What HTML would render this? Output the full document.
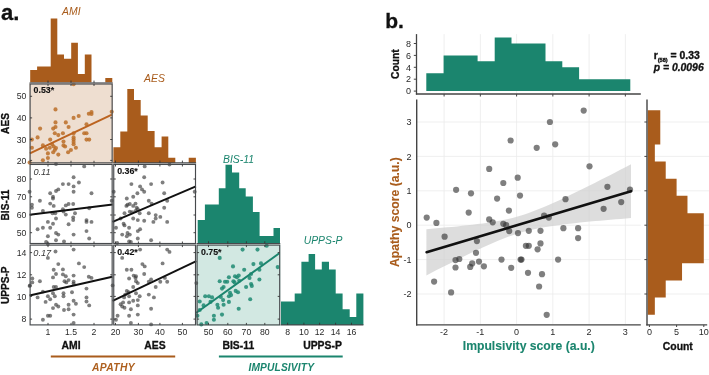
<!DOCTYPE html>
<html><head><meta charset="utf-8"><style>
html,body{margin:0;padding:0;background:#fff;overflow:hidden;}
svg{display:block;will-change:transform;font-family:"Liberation Sans", sans-serif;}
</style></head><body>
<svg width="709" height="375" viewBox="0 0 709 375">
<rect width="709" height="375" fill="#fff"/>
<text x="1.00" y="19.70" font-size="22" fill="#111" stroke="#111" stroke-width="0.3" font-weight="bold" font-style="normal" text-anchor="start" >a.</text>
<path d="M30.20,82.60L30.20,70.10L37.10,70.10L37.10,66.40L50.70,66.40L50.70,18.50L57.30,18.50L57.30,54.40L64.00,54.40L64.00,58.70L71.20,58.70L71.20,42.70L77.90,42.70L77.90,74.10L84.80,74.10L84.80,54.40L91.50,54.40L91.50,82.60ZM105.30,82.60L105.30,78.00L112.30,78.00L112.30,82.60Z" fill="#A95C1C"/>
<text x="71.30" y="14.80" font-size="10.4" fill="#A95C1C" stroke="#A95C1C" stroke-width="0.0" font-weight="normal" font-style="italic" text-anchor="middle" >AMI</text>
<path d="M113.40,163.00L113.40,147.20L120.30,147.20L120.30,131.60L127.30,131.60L127.30,89.10L134.00,89.10L134.00,99.90L140.70,99.90L140.70,115.50L147.70,115.50L147.70,131.10L154.60,131.10L154.60,147.20L161.60,147.20L161.60,136.60L168.30,136.60L168.30,157.80L175.30,157.80L175.30,163.00ZM188.70,163.00L188.70,157.80L195.90,157.80L195.90,163.00Z" fill="#A95C1C"/>
<text x="154.50" y="82.20" font-size="10.4" fill="#A95C1C" stroke="#A95C1C" stroke-width="0.0" font-weight="normal" font-style="italic" text-anchor="middle" >AES</text>
<path d="M197.70,243.60L197.70,220.00L204.90,220.00L204.90,204.40L218.80,204.40L218.80,188.30L225.50,188.30L225.50,164.80L232.00,164.80L232.00,172.50L239.20,172.50L239.20,188.30L245.70,188.30L245.70,196.50L252.90,196.50L252.90,212.00L259.60,212.00L259.60,236.00L273.50,236.00L273.50,227.90L280.00,227.90L280.00,243.60Z" fill="#1B856E"/>
<text x="238.50" y="163.00" font-size="10.4" fill="#1B856E" stroke="#1B856E" stroke-width="0.0" font-weight="normal" font-style="italic" text-anchor="middle" >BIS-11</text>
<path d="M281.00,325.00L281.00,301.40L294.70,301.40L294.70,293.50L301.40,293.50L301.40,261.80L308.60,261.80L308.60,253.90L315.10,253.90L315.10,269.50L321.80,269.50L321.80,261.80L329.00,261.80L329.00,269.50L335.70,269.50L335.70,293.50L342.60,293.50L342.60,309.20L349.70,309.20L349.70,316.90L356.30,316.90L356.30,293.50L363.40,293.50L363.40,325.00Z" fill="#1B856E"/>
<text x="323.00" y="243.90" font-size="10.4" fill="#1B856E" stroke="#1B856E" stroke-width="0.0" font-weight="normal" font-style="italic" text-anchor="middle" >UPPS-P</text>
<rect x="29.30" y="83.20" width="83.65" height="80.45" fill="#EEDED0" />
<rect x="196.30" y="244.30" width="84.20" height="81.40" fill="#D2E8E2" />
<g fill="#BB6F28" fill-opacity="0.85"><circle cx="55.5" cy="109.4" r="2.05"/><circle cx="73.6" cy="117.9" r="2.05"/><circle cx="78.7" cy="116.0" r="2.05"/><circle cx="88.8" cy="113.7" r="2.05"/><circle cx="91.5" cy="112.1" r="2.05"/><circle cx="91.5" cy="114.0" r="2.05"/><circle cx="111.7" cy="111.7" r="2.05"/><circle cx="55.5" cy="122.4" r="2.05"/><circle cx="65.8" cy="122.4" r="2.05"/><circle cx="40.1" cy="128.6" r="2.05"/><circle cx="53.2" cy="128.6" r="2.05"/><circle cx="55.5" cy="127.0" r="2.05"/><circle cx="68.6" cy="127.0" r="2.05"/><circle cx="86.5" cy="124.3" r="2.05"/><circle cx="37.6" cy="137.4" r="2.05"/><circle cx="54.8" cy="133.2" r="2.05"/><circle cx="58.3" cy="135.1" r="2.05"/><circle cx="62.9" cy="133.2" r="2.05"/><circle cx="73.6" cy="133.2" r="2.05"/><circle cx="84.2" cy="133.2" r="2.05"/><circle cx="86.5" cy="133.2" r="2.05"/><circle cx="31.9" cy="139.6" r="2.05"/><circle cx="50.2" cy="139.6" r="2.05"/><circle cx="63.5" cy="141.5" r="2.05"/><circle cx="73.6" cy="137.4" r="2.05"/><circle cx="73.6" cy="139.6" r="2.05"/><circle cx="73.6" cy="141.9" r="2.05"/><circle cx="73.6" cy="144.2" r="2.05"/><circle cx="86.5" cy="139.6" r="2.05"/><circle cx="89.2" cy="139.6" r="2.05"/><circle cx="31.9" cy="147.7" r="2.05"/><circle cx="42.9" cy="145.4" r="2.05"/><circle cx="46.1" cy="148.8" r="2.05"/><circle cx="49.8" cy="147.7" r="2.05"/><circle cx="53.7" cy="146.5" r="2.05"/><circle cx="56.0" cy="148.1" r="2.05"/><circle cx="63.5" cy="145.4" r="2.05"/><circle cx="65.1" cy="146.5" r="2.05"/><circle cx="70.9" cy="150.0" r="2.05"/><circle cx="68.1" cy="152.3" r="2.05"/><circle cx="75.9" cy="147.7" r="2.05"/><circle cx="47.9" cy="153.4" r="2.05"/><circle cx="53.2" cy="152.3" r="2.05"/><circle cx="54.8" cy="150.0" r="2.05"/><circle cx="58.3" cy="154.6" r="2.05"/><circle cx="47.9" cy="158.0" r="2.05"/><circle cx="42.9" cy="160.3" r="2.05"/><circle cx="29.6" cy="162.6" r="2.05"/><circle cx="52.1" cy="144.2" r="2.05"/><circle cx="73.6" cy="84.2" r="2.05"/></g>
<g fill="#3A3A3A" fill-opacity="0.65"><circle cx="56.0" cy="164.1" r="1.95"/><circle cx="84.2" cy="166.4" r="1.95"/><circle cx="73.6" cy="177.2" r="1.95"/><circle cx="62.9" cy="184.1" r="1.95"/><circle cx="68.6" cy="184.1" r="1.95"/><circle cx="78.9" cy="182.5" r="1.95"/><circle cx="73.6" cy="186.4" r="1.95"/><circle cx="58.3" cy="189.4" r="1.95"/><circle cx="56.0" cy="191.0" r="1.95"/><circle cx="73.6" cy="191.7" r="1.95"/><circle cx="50.2" cy="193.3" r="1.95"/><circle cx="91.5" cy="193.3" r="1.95"/><circle cx="29.6" cy="191.7" r="1.95"/><circle cx="53.0" cy="196.7" r="1.95"/><circle cx="53.0" cy="198.5" r="1.95"/><circle cx="39.9" cy="200.8" r="1.95"/><circle cx="50.2" cy="203.6" r="1.95"/><circle cx="53.7" cy="205.9" r="1.95"/><circle cx="68.6" cy="204.0" r="1.95"/><circle cx="65.8" cy="205.4" r="1.95"/><circle cx="73.2" cy="204.0" r="1.95"/><circle cx="31.9" cy="204.7" r="1.95"/><circle cx="31.9" cy="207.7" r="1.95"/><circle cx="42.9" cy="210.9" r="1.95"/><circle cx="62.9" cy="209.3" r="1.95"/><circle cx="63.5" cy="211.6" r="1.95"/><circle cx="52.5" cy="213.2" r="1.95"/><circle cx="55.3" cy="213.2" r="1.95"/><circle cx="65.8" cy="214.6" r="1.95"/><circle cx="75.0" cy="213.2" r="1.95"/><circle cx="89.2" cy="208.2" r="1.95"/><circle cx="111.7" cy="200.8" r="1.95"/><circle cx="56.0" cy="218.5" r="1.95"/><circle cx="73.2" cy="217.4" r="1.95"/><circle cx="73.2" cy="220.1" r="1.95"/><circle cx="47.9" cy="221.9" r="1.95"/><circle cx="53.0" cy="223.8" r="1.95"/><circle cx="86.5" cy="220.1" r="1.95"/><circle cx="86.5" cy="221.9" r="1.95"/><circle cx="91.5" cy="221.9" r="1.95"/><circle cx="68.6" cy="224.2" r="1.95"/><circle cx="37.6" cy="229.3" r="1.95"/><circle cx="42.9" cy="227.7" r="1.95"/><circle cx="50.2" cy="227.7" r="1.95"/><circle cx="86.5" cy="231.1" r="1.95"/><circle cx="56.0" cy="233.0" r="1.95"/><circle cx="58.3" cy="234.6" r="1.95"/><circle cx="47.9" cy="236.2" r="1.95"/><circle cx="73.6" cy="234.6" r="1.95"/><circle cx="89.2" cy="238.5" r="1.95"/><circle cx="56.0" cy="240.3" r="1.95"/><circle cx="64.0" cy="241.4" r="1.95"/><circle cx="46.1" cy="241.9" r="1.95"/></g>
<g fill="#3A3A3A" fill-opacity="0.65"><circle cx="144.7" cy="166.4" r="1.95"/><circle cx="169.5" cy="164.6" r="1.95"/><circle cx="144.2" cy="177.2" r="1.95"/><circle cx="131.4" cy="184.1" r="1.95"/><circle cx="151.1" cy="184.1" r="1.95"/><circle cx="162.6" cy="182.5" r="1.95"/><circle cx="140.1" cy="186.4" r="1.95"/><circle cx="142.0" cy="189.4" r="1.95"/><circle cx="144.2" cy="191.7" r="1.95"/><circle cx="137.4" cy="193.3" r="1.95"/><circle cx="164.2" cy="193.3" r="1.95"/><circle cx="113.7" cy="191.7" r="1.95"/><circle cx="194.7" cy="191.7" r="1.95"/><circle cx="133.2" cy="196.7" r="1.95"/><circle cx="126.8" cy="198.5" r="1.95"/><circle cx="148.8" cy="200.8" r="1.95"/><circle cx="167.2" cy="200.8" r="1.95"/><circle cx="127.5" cy="204.7" r="1.95"/><circle cx="129.8" cy="204.0" r="1.95"/><circle cx="135.5" cy="203.6" r="1.95"/><circle cx="133.2" cy="205.9" r="1.95"/><circle cx="151.6" cy="203.6" r="1.95"/><circle cx="126.4" cy="205.9" r="1.95"/><circle cx="136.7" cy="207.7" r="1.95"/><circle cx="137.8" cy="209.3" r="1.95"/><circle cx="164.2" cy="207.7" r="1.95"/><circle cx="135.5" cy="210.9" r="1.95"/><circle cx="129.8" cy="211.6" r="1.95"/><circle cx="132.1" cy="212.3" r="1.95"/><circle cx="124.5" cy="213.2" r="1.95"/><circle cx="139.7" cy="213.2" r="1.95"/><circle cx="148.8" cy="213.2" r="1.95"/><circle cx="155.7" cy="215.1" r="1.95"/><circle cx="160.3" cy="216.9" r="1.95"/><circle cx="120.6" cy="218.5" r="1.95"/><circle cx="133.2" cy="218.5" r="1.95"/><circle cx="155.7" cy="218.5" r="1.95"/><circle cx="137.8" cy="220.1" r="1.95"/><circle cx="144.2" cy="220.8" r="1.95"/><circle cx="153.4" cy="221.9" r="1.95"/><circle cx="167.2" cy="221.9" r="1.95"/><circle cx="123.6" cy="223.8" r="1.95"/><circle cx="124.5" cy="225.4" r="1.95"/><circle cx="116.0" cy="227.7" r="1.95"/><circle cx="129.1" cy="227.7" r="1.95"/><circle cx="140.1" cy="229.3" r="1.95"/><circle cx="137.8" cy="231.1" r="1.95"/><circle cx="127.5" cy="233.0" r="1.95"/><circle cx="129.8" cy="234.6" r="1.95"/><circle cx="122.2" cy="234.6" r="1.95"/><circle cx="126.8" cy="236.2" r="1.95"/><circle cx="137.8" cy="238.5" r="1.95"/><circle cx="151.1" cy="240.3" r="1.95"/><circle cx="129.1" cy="241.4" r="1.95"/><circle cx="130.9" cy="241.9" r="1.95"/><circle cx="117.2" cy="243.0" r="1.95"/></g>
<g fill="#3A3A3A" fill-opacity="0.65"><circle cx="47.9" cy="244.1" r="1.95"/><circle cx="73.6" cy="249.6" r="1.95"/><circle cx="55.5" cy="251.5" r="1.95"/><circle cx="47.9" cy="257.9" r="1.95"/><circle cx="58.3" cy="264.1" r="1.95"/><circle cx="78.9" cy="263.4" r="1.95"/><circle cx="84.2" cy="267.1" r="1.95"/><circle cx="53.7" cy="269.8" r="1.95"/><circle cx="62.9" cy="269.4" r="1.95"/><circle cx="56.0" cy="274.0" r="1.95"/><circle cx="62.9" cy="274.4" r="1.95"/><circle cx="65.8" cy="276.2" r="1.95"/><circle cx="73.6" cy="275.6" r="1.95"/><circle cx="88.8" cy="276.7" r="1.95"/><circle cx="91.5" cy="277.9" r="1.95"/><circle cx="53.0" cy="277.4" r="1.95"/><circle cx="32.3" cy="278.5" r="1.95"/><circle cx="32.3" cy="282.4" r="1.95"/><circle cx="39.9" cy="281.3" r="1.95"/><circle cx="64.5" cy="281.3" r="1.95"/><circle cx="68.6" cy="280.1" r="1.95"/><circle cx="73.6" cy="281.8" r="1.95"/><circle cx="73.6" cy="283.6" r="1.95"/><circle cx="66.3" cy="282.4" r="1.95"/><circle cx="30.0" cy="285.4" r="1.95"/><circle cx="53.7" cy="287.0" r="1.95"/><circle cx="56.0" cy="287.0" r="1.95"/><circle cx="86.5" cy="288.6" r="1.95"/><circle cx="42.9" cy="291.6" r="1.95"/><circle cx="53.0" cy="293.2" r="1.95"/><circle cx="63.5" cy="293.2" r="1.95"/><circle cx="72.0" cy="292.3" r="1.95"/><circle cx="54.8" cy="296.2" r="1.95"/><circle cx="47.9" cy="296.2" r="1.95"/><circle cx="63.5" cy="296.2" r="1.95"/><circle cx="37.6" cy="297.4" r="1.95"/><circle cx="50.2" cy="299.2" r="1.95"/><circle cx="86.5" cy="297.4" r="1.95"/><circle cx="45.6" cy="301.9" r="1.95"/><circle cx="73.6" cy="300.8" r="1.95"/><circle cx="86.5" cy="301.5" r="1.95"/><circle cx="56.0" cy="304.7" r="1.95"/><circle cx="58.3" cy="306.5" r="1.95"/><circle cx="68.6" cy="304.7" r="1.95"/><circle cx="75.9" cy="303.8" r="1.95"/><circle cx="89.2" cy="305.4" r="1.95"/><circle cx="53.0" cy="308.1" r="1.95"/><circle cx="64.0" cy="310.0" r="1.95"/><circle cx="68.6" cy="309.3" r="1.95"/><circle cx="47.9" cy="315.7" r="1.95"/><circle cx="50.2" cy="315.7" r="1.95"/><circle cx="73.6" cy="314.6" r="1.95"/><circle cx="42.9" cy="319.8" r="1.95"/><circle cx="73.6" cy="323.0" r="1.95"/><circle cx="29.6" cy="285.9" r="1.95"/></g>
<g fill="#3A3A3A" fill-opacity="0.65"><circle cx="140.1" cy="249.6" r="1.95"/><circle cx="167.2" cy="249.6" r="1.95"/><circle cx="169.5" cy="251.9" r="1.95"/><circle cx="122.2" cy="257.9" r="1.95"/><circle cx="142.4" cy="264.1" r="1.95"/><circle cx="144.7" cy="266.4" r="1.95"/><circle cx="162.6" cy="263.4" r="1.95"/><circle cx="126.8" cy="269.8" r="1.95"/><circle cx="131.4" cy="269.8" r="1.95"/><circle cx="144.2" cy="274.0" r="1.95"/><circle cx="133.7" cy="275.6" r="1.95"/><circle cx="136.0" cy="276.2" r="1.95"/><circle cx="129.1" cy="278.5" r="1.95"/><circle cx="135.5" cy="277.9" r="1.95"/><circle cx="164.9" cy="277.9" r="1.95"/><circle cx="151.1" cy="279.5" r="1.95"/><circle cx="148.8" cy="281.8" r="1.95"/><circle cx="160.3" cy="281.8" r="1.95"/><circle cx="167.2" cy="281.8" r="1.95"/><circle cx="136.0" cy="281.3" r="1.95"/><circle cx="137.8" cy="283.1" r="1.95"/><circle cx="112.6" cy="285.4" r="1.95"/><circle cx="196.3" cy="283.1" r="1.95"/><circle cx="133.2" cy="287.0" r="1.95"/><circle cx="155.7" cy="287.0" r="1.95"/><circle cx="126.8" cy="290.9" r="1.95"/><circle cx="128.6" cy="292.3" r="1.95"/><circle cx="136.0" cy="293.2" r="1.95"/><circle cx="125.2" cy="294.6" r="1.95"/><circle cx="148.8" cy="294.6" r="1.95"/><circle cx="129.1" cy="296.2" r="1.95"/><circle cx="139.7" cy="296.2" r="1.95"/><circle cx="124.1" cy="297.4" r="1.95"/><circle cx="153.9" cy="297.4" r="1.95"/><circle cx="137.8" cy="300.1" r="1.95"/><circle cx="133.2" cy="300.8" r="1.95"/><circle cx="129.1" cy="302.4" r="1.95"/><circle cx="120.6" cy="304.2" r="1.95"/><circle cx="137.8" cy="305.4" r="1.95"/><circle cx="122.2" cy="306.5" r="1.95"/><circle cx="124.5" cy="307.7" r="1.95"/><circle cx="130.9" cy="309.3" r="1.95"/><circle cx="151.1" cy="308.8" r="1.95"/><circle cx="137.8" cy="314.6" r="1.95"/><circle cx="117.6" cy="315.7" r="1.95"/><circle cx="129.1" cy="315.7" r="1.95"/><circle cx="116.0" cy="319.8" r="1.95"/><circle cx="130.9" cy="323.0" r="1.95"/><circle cx="151.1" cy="324.4" r="1.95"/><circle cx="123.1" cy="302.4" r="1.95"/></g>
<g fill="#1E8A72" fill-opacity="0.85"><circle cx="242.6" cy="249.6" r="2.05"/><circle cx="257.5" cy="249.6" r="2.05"/><circle cx="266.7" cy="245.7" r="2.05"/><circle cx="219.7" cy="257.9" r="2.05"/><circle cx="233.0" cy="266.4" r="2.05"/><circle cx="253.4" cy="264.1" r="2.05"/><circle cx="261.0" cy="263.4" r="2.05"/><circle cx="244.2" cy="269.8" r="2.05"/><circle cx="259.4" cy="269.8" r="2.05"/><circle cx="277.7" cy="267.1" r="2.05"/><circle cx="228.9" cy="277.2" r="2.05"/><circle cx="235.0" cy="276.2" r="2.05"/><circle cx="236.9" cy="277.2" r="2.05"/><circle cx="238.7" cy="275.6" r="2.05"/><circle cx="251.1" cy="274.0" r="2.05"/><circle cx="249.5" cy="277.9" r="2.05"/><circle cx="219.7" cy="281.3" r="2.05"/><circle cx="225.0" cy="281.8" r="2.05"/><circle cx="227.2" cy="281.8" r="2.05"/><circle cx="233.4" cy="281.3" r="2.05"/><circle cx="234.6" cy="282.4" r="2.05"/><circle cx="259.4" cy="279.5" r="2.05"/><circle cx="239.2" cy="280.8" r="2.05"/><circle cx="223.6" cy="287.0" r="2.05"/><circle cx="222.0" cy="288.6" r="2.05"/><circle cx="246.1" cy="287.0" r="2.05"/><circle cx="251.1" cy="284.0" r="2.05"/><circle cx="251.8" cy="285.9" r="2.05"/><circle cx="235.7" cy="290.9" r="2.05"/><circle cx="238.0" cy="292.3" r="2.05"/><circle cx="230.0" cy="292.8" r="2.05"/><circle cx="231.1" cy="295.1" r="2.05"/><circle cx="228.9" cy="296.2" r="2.05"/><circle cx="205.2" cy="296.2" r="2.05"/><circle cx="208.9" cy="296.2" r="2.05"/><circle cx="212.1" cy="297.4" r="2.05"/><circle cx="220.8" cy="296.9" r="2.05"/><circle cx="250.2" cy="299.2" r="2.05"/><circle cx="199.7" cy="301.5" r="2.05"/><circle cx="210.5" cy="301.9" r="2.05"/><circle cx="223.1" cy="300.1" r="2.05"/><circle cx="228.9" cy="301.9" r="2.05"/><circle cx="217.4" cy="304.7" r="2.05"/><circle cx="223.6" cy="304.7" r="2.05"/><circle cx="203.6" cy="305.4" r="2.05"/><circle cx="218.1" cy="307.7" r="2.05"/><circle cx="238.7" cy="308.8" r="2.05"/><circle cx="199.7" cy="310.0" r="2.05"/><circle cx="222.0" cy="314.6" r="2.05"/><circle cx="213.9" cy="315.7" r="2.05"/><circle cx="197.4" cy="315.7" r="2.05"/><circle cx="213.9" cy="319.8" r="2.05"/><circle cx="206.6" cy="323.0" r="2.05"/><circle cx="201.3" cy="324.4" r="2.05"/></g>
<line x1="29.90" y1="153.30" x2="111.90" y2="114.60" stroke="#BC6420" stroke-width="2.0" />
<line x1="29.60" y1="214.80" x2="112.60" y2="204.60" stroke="#111" stroke-width="2.0" />
<line x1="112.60" y1="221.90" x2="195.90" y2="186.40" stroke="#111" stroke-width="2.0" />
<line x1="29.60" y1="295.50" x2="112.30" y2="276.70" stroke="#111" stroke-width="2.0" />
<line x1="112.60" y1="300.80" x2="196.30" y2="261.10" stroke="#111" stroke-width="2.0" />
<line x1="196.00" y1="313.00" x2="279.30" y2="253.30" stroke="#1B856E" stroke-width="2.0" />
<rect x="30.10" y="84.00" width="82.05" height="78.85" fill="none" stroke="#474a4d" stroke-width="1.15"/>
<path d="M48.0,162.8v-2M48.0,84.0v2M71.0,162.8v-2M71.0,84.0v2M94.0,162.8v-2M94.0,84.0v2M30.1,96.3h2M112.2,96.3h-2M30.1,117.9h2M112.2,117.9h-2M30.1,139.5h2M112.2,139.5h-2M30.1,160.4h2M112.2,160.4h-2" stroke="#333" stroke-width="0.9" fill="none"/>
<rect x="30.10" y="164.45" width="82.05" height="79.05" fill="none" stroke="#474a4d" stroke-width="1.15"/>
<path d="M48.0,243.5v-2M48.0,164.5v2M71.0,243.5v-2M71.0,164.5v2M94.0,243.5v-2M94.0,164.5v2M30.1,179.0h2M112.2,179.0h-2M30.1,196.8h2M112.2,196.8h-2M30.1,215.0h2M112.2,215.0h-2M30.1,232.7h2M112.2,232.7h-2" stroke="#333" stroke-width="0.9" fill="none"/>
<rect x="113.75" y="164.45" width="81.75" height="79.05" fill="none" stroke="#474a4d" stroke-width="1.15"/>
<path d="M115.5,243.5v-2M115.5,164.5v2M138.4,243.5v-2M138.4,164.5v2M159.9,243.5v-2M159.9,164.5v2M182.4,243.5v-2M182.4,164.5v2M113.8,179.0h2M195.5,179.0h-2M113.8,196.8h2M195.5,196.8h-2M113.8,215.0h2M195.5,215.0h-2M113.8,232.7h2M195.5,232.7h-2" stroke="#333" stroke-width="0.9" fill="none"/>
<rect x="30.10" y="245.10" width="82.05" height="79.80" fill="none" stroke="#474a4d" stroke-width="1.15"/>
<path d="M48.0,324.9v-2M48.0,245.1v2M71.0,324.9v-2M71.0,245.1v2M94.0,324.9v-2M94.0,245.1v2M30.1,252.6h2M112.2,252.6h-2M30.1,274.8h2M112.2,274.8h-2M30.1,296.4h2M112.2,296.4h-2M30.1,319.1h2M112.2,319.1h-2" stroke="#333" stroke-width="0.9" fill="none"/>
<rect x="113.75" y="245.10" width="81.75" height="79.80" fill="none" stroke="#474a4d" stroke-width="1.15"/>
<path d="M115.5,324.9v-2M115.5,245.1v2M138.4,324.9v-2M138.4,245.1v2M159.9,324.9v-2M159.9,245.1v2M182.4,324.9v-2M182.4,245.1v2M113.8,252.6h2M195.5,252.6h-2M113.8,274.8h2M195.5,274.8h-2M113.8,296.4h2M195.5,296.4h-2M113.8,319.1h2M195.5,319.1h-2" stroke="#333" stroke-width="0.9" fill="none"/>
<rect x="197.10" y="245.10" width="82.60" height="79.80" fill="none" stroke="#474a4d" stroke-width="1.15"/>
<path d="M208.5,324.9v-2M208.5,245.1v2M227.8,324.9v-2M227.8,245.1v2M246.4,324.9v-2M246.4,245.1v2M264.8,324.9v-2M264.8,245.1v2M197.1,252.6h2M279.7,252.6h-2M197.1,274.8h2M279.7,274.8h-2M197.1,296.4h2M279.7,296.4h-2M197.1,319.1h2M279.7,319.1h-2" stroke="#333" stroke-width="0.9" fill="none"/>
<line x1="29.50" y1="82.80" x2="112.75" y2="82.80" stroke="#6a6d70" stroke-width="1.3" />
<line x1="113.15" y1="162.85" x2="196.10" y2="162.85" stroke="#474a4d" stroke-width="1.15" />
<line x1="196.50" y1="243.50" x2="280.30" y2="243.50" stroke="#474a4d" stroke-width="1.15" />
<line x1="280.70" y1="324.90" x2="363.40" y2="324.90" stroke="#474a4d" stroke-width="1.15" />
<path d="M48.0,82.8v-2.2M71.0,82.8v-2.2M94.0,82.8v-2.2" stroke="#333" stroke-width="0.9" fill="none"/>
<path d="M115.5,162.8v-2.2M138.4,162.8v-2.2M159.9,162.8v-2.2M182.4,162.8v-2.2" stroke="#333" stroke-width="0.9" fill="none"/>
<path d="M208.5,243.5v-2.2M227.8,243.5v-2.2M246.4,243.5v-2.2M264.8,243.5v-2.2" stroke="#333" stroke-width="0.9" fill="none"/>
<path d="M287.6,324.9v-2.2M303.9,324.9v-2.2M319.6,324.9v-2.2M335.6,324.9v-2.2M351.5,324.9v-2.2" stroke="#333" stroke-width="0.9" fill="none"/>
<text x="33.60" y="93.00" font-size="8.8" fill="#111" stroke="#111" stroke-width="0.12" font-weight="bold" font-style="normal" text-anchor="start" >0.53*</text>
<text x="33.40" y="174.90" font-size="9.2" fill="#3a3a3a" stroke="#3a3a3a" stroke-width="0.0" font-weight="normal" font-style="italic" text-anchor="start" >0.11</text>
<text x="117.20" y="174.30" font-size="8.8" fill="#111" stroke="#111" stroke-width="0.12" font-weight="bold" font-style="normal" text-anchor="start" >0.36*</text>
<text x="33.30" y="255.90" font-size="9.2" fill="#3a3a3a" stroke="#3a3a3a" stroke-width="0.0" font-weight="normal" font-style="italic" text-anchor="start" >0.17</text>
<text x="117.20" y="254.70" font-size="8.8" fill="#111" stroke="#111" stroke-width="0.12" font-weight="bold" font-style="normal" text-anchor="start" >0.42*</text>
<text x="201.00" y="255.10" font-size="8.8" fill="#111" stroke="#111" stroke-width="0.12" font-weight="bold" font-style="normal" text-anchor="start" >0.75*</text>
<text x="26.40" y="99.40" font-size="8.7" fill="#2a2a2a" stroke="#2a2a2a" stroke-width="0.0" font-weight="normal" font-style="normal" text-anchor="end" >50</text>
<text x="26.40" y="121.00" font-size="8.7" fill="#2a2a2a" stroke="#2a2a2a" stroke-width="0.0" font-weight="normal" font-style="normal" text-anchor="end" >40</text>
<text x="26.40" y="142.60" font-size="8.7" fill="#2a2a2a" stroke="#2a2a2a" stroke-width="0.0" font-weight="normal" font-style="normal" text-anchor="end" >30</text>
<text x="26.40" y="163.50" font-size="8.7" fill="#2a2a2a" stroke="#2a2a2a" stroke-width="0.0" font-weight="normal" font-style="normal" text-anchor="end" >20</text>
<text x="26.40" y="182.10" font-size="8.7" fill="#2a2a2a" stroke="#2a2a2a" stroke-width="0.0" font-weight="normal" font-style="normal" text-anchor="end" >80</text>
<text x="26.40" y="199.90" font-size="8.7" fill="#2a2a2a" stroke="#2a2a2a" stroke-width="0.0" font-weight="normal" font-style="normal" text-anchor="end" >70</text>
<text x="26.40" y="218.10" font-size="8.7" fill="#2a2a2a" stroke="#2a2a2a" stroke-width="0.0" font-weight="normal" font-style="normal" text-anchor="end" >60</text>
<text x="26.40" y="235.80" font-size="8.7" fill="#2a2a2a" stroke="#2a2a2a" stroke-width="0.0" font-weight="normal" font-style="normal" text-anchor="end" >50</text>
<text x="26.40" y="255.70" font-size="8.7" fill="#2a2a2a" stroke="#2a2a2a" stroke-width="0.0" font-weight="normal" font-style="normal" text-anchor="end" >14</text>
<text x="26.40" y="277.90" font-size="8.7" fill="#2a2a2a" stroke="#2a2a2a" stroke-width="0.0" font-weight="normal" font-style="normal" text-anchor="end" >12</text>
<text x="26.40" y="299.50" font-size="8.7" fill="#2a2a2a" stroke="#2a2a2a" stroke-width="0.0" font-weight="normal" font-style="normal" text-anchor="end" >10</text>
<text x="26.40" y="322.20" font-size="8.7" fill="#2a2a2a" stroke="#2a2a2a" stroke-width="0.0" font-weight="normal" font-style="normal" text-anchor="end" >8</text>
<text x="48.00" y="334.70" font-size="8.7" fill="#2a2a2a" stroke="#2a2a2a" stroke-width="0.0" font-weight="normal" font-style="normal" text-anchor="middle" >1</text>
<text x="71.00" y="334.70" font-size="8.7" fill="#2a2a2a" stroke="#2a2a2a" stroke-width="0.0" font-weight="normal" font-style="normal" text-anchor="middle" >1.5</text>
<text x="94.00" y="334.70" font-size="8.7" fill="#2a2a2a" stroke="#2a2a2a" stroke-width="0.0" font-weight="normal" font-style="normal" text-anchor="middle" >2</text>
<text x="115.50" y="334.70" font-size="8.7" fill="#2a2a2a" stroke="#2a2a2a" stroke-width="0.0" font-weight="normal" font-style="normal" text-anchor="middle" >20</text>
<text x="138.40" y="334.70" font-size="8.7" fill="#2a2a2a" stroke="#2a2a2a" stroke-width="0.0" font-weight="normal" font-style="normal" text-anchor="middle" >30</text>
<text x="159.90" y="334.70" font-size="8.7" fill="#2a2a2a" stroke="#2a2a2a" stroke-width="0.0" font-weight="normal" font-style="normal" text-anchor="middle" >40</text>
<text x="182.40" y="334.70" font-size="8.7" fill="#2a2a2a" stroke="#2a2a2a" stroke-width="0.0" font-weight="normal" font-style="normal" text-anchor="middle" >50</text>
<text x="208.50" y="334.70" font-size="8.7" fill="#2a2a2a" stroke="#2a2a2a" stroke-width="0.0" font-weight="normal" font-style="normal" text-anchor="middle" >50</text>
<text x="227.80" y="334.70" font-size="8.7" fill="#2a2a2a" stroke="#2a2a2a" stroke-width="0.0" font-weight="normal" font-style="normal" text-anchor="middle" >60</text>
<text x="246.40" y="334.70" font-size="8.7" fill="#2a2a2a" stroke="#2a2a2a" stroke-width="0.0" font-weight="normal" font-style="normal" text-anchor="middle" >70</text>
<text x="264.80" y="334.70" font-size="8.7" fill="#2a2a2a" stroke="#2a2a2a" stroke-width="0.0" font-weight="normal" font-style="normal" text-anchor="middle" >80</text>
<text x="287.60" y="334.70" font-size="8.7" fill="#2a2a2a" stroke="#2a2a2a" stroke-width="0.0" font-weight="normal" font-style="normal" text-anchor="middle" >8</text>
<text x="303.90" y="334.70" font-size="8.7" fill="#2a2a2a" stroke="#2a2a2a" stroke-width="0.0" font-weight="normal" font-style="normal" text-anchor="middle" >10</text>
<text x="319.60" y="334.70" font-size="8.7" fill="#2a2a2a" stroke="#2a2a2a" stroke-width="0.0" font-weight="normal" font-style="normal" text-anchor="middle" >12</text>
<text x="335.60" y="334.70" font-size="8.7" fill="#2a2a2a" stroke="#2a2a2a" stroke-width="0.0" font-weight="normal" font-style="normal" text-anchor="middle" >14</text>
<text x="351.50" y="334.70" font-size="8.7" fill="#2a2a2a" stroke="#2a2a2a" stroke-width="0.0" font-weight="normal" font-style="normal" text-anchor="middle" >16</text>
<text x="9.30" y="123.50" font-size="10.1" fill="#111" stroke="#111" stroke-width="0.3" font-weight="bold" font-style="normal" text-anchor="middle" transform="rotate(-90 9.3 123.5)">AES</text>
<text x="9.30" y="205.00" font-size="10.1" fill="#111" stroke="#111" stroke-width="0.3" font-weight="bold" font-style="normal" text-anchor="middle" transform="rotate(-90 9.3 205.0)">BIS-11</text>
<text x="9.30" y="285.30" font-size="10.1" fill="#111" stroke="#111" stroke-width="0.3" font-weight="bold" font-style="normal" text-anchor="middle" transform="rotate(-90 9.3 285.3)">UPPS-P</text>
<text x="71.10" y="349.30" font-size="10.4" fill="#111" stroke="#111" stroke-width="0.3" font-weight="bold" font-style="normal" text-anchor="middle" >AMI</text>
<text x="154.90" y="349.30" font-size="10.4" fill="#111" stroke="#111" stroke-width="0.3" font-weight="bold" font-style="normal" text-anchor="middle" >AES</text>
<text x="238.30" y="349.30" font-size="10.4" fill="#111" stroke="#111" stroke-width="0.3" font-weight="bold" font-style="normal" text-anchor="middle" >BIS-11</text>
<text x="322.50" y="349.30" font-size="10.4" fill="#111" stroke="#111" stroke-width="0.3" font-weight="bold" font-style="normal" text-anchor="middle" >UPPS-P</text>
<line x1="50.80" y1="356.50" x2="175.20" y2="356.50" stroke="#A95C1C" stroke-width="1.9" />
<line x1="218.90" y1="356.50" x2="342.70" y2="356.50" stroke="#1B856E" stroke-width="1.9" />
<text x="113.5" y="371.1" font-size="10.3" fill="#AD5F1E" font-weight="bold" font-style="italic" text-anchor="middle" letter-spacing="0.4">APATHY</text>
<text x="281.3" y="370.9" font-size="10.2" fill="#1B856E" font-weight="bold" font-style="italic" text-anchor="middle" letter-spacing="0.15">IMPULSIVITY</text>
<text x="385.20" y="27.50" font-size="21" fill="#111" stroke="#111" stroke-width="0.3" font-weight="bold" font-style="normal" text-anchor="start" >b.</text>
<line x1="444.10" y1="34.10" x2="444.10" y2="93.50" stroke="#EBEBEB" stroke-width="0.8" />
<line x1="480.35" y1="34.10" x2="480.35" y2="93.50" stroke="#EBEBEB" stroke-width="0.8" />
<line x1="516.60" y1="34.10" x2="516.60" y2="93.50" stroke="#EBEBEB" stroke-width="0.8" />
<line x1="552.85" y1="34.10" x2="552.85" y2="93.50" stroke="#EBEBEB" stroke-width="0.8" />
<line x1="589.10" y1="34.10" x2="589.10" y2="93.50" stroke="#EBEBEB" stroke-width="0.8" />
<line x1="625.35" y1="34.10" x2="625.35" y2="93.50" stroke="#EBEBEB" stroke-width="0.8" />
<path d="M426.30,91.10L426.30,73.25L443.60,73.25L443.60,55.40L477.60,55.40L477.60,61.35L494.70,61.35L494.70,37.55L511.50,37.55L511.50,43.50L545.50,43.50L545.50,61.35L562.30,61.35L562.30,67.30L579.10,67.30L579.10,79.20L630.30,79.20L630.30,91.10Z" fill="#1B856E"/>
<line x1="416.50" y1="34.10" x2="416.50" y2="94.60" stroke="#444" stroke-width="1.3" />
<line x1="415.90" y1="94.00" x2="640.80" y2="94.00" stroke="#444" stroke-width="1.3" />
<line x1="444.10" y1="94.00" x2="444.10" y2="96.50" stroke="#444" stroke-width="1.0" />
<line x1="480.35" y1="94.00" x2="480.35" y2="96.50" stroke="#444" stroke-width="1.0" />
<line x1="516.60" y1="94.00" x2="516.60" y2="96.50" stroke="#444" stroke-width="1.0" />
<line x1="552.85" y1="94.00" x2="552.85" y2="96.50" stroke="#444" stroke-width="1.0" />
<line x1="589.10" y1="94.00" x2="589.10" y2="96.50" stroke="#444" stroke-width="1.0" />
<line x1="625.35" y1="94.00" x2="625.35" y2="96.50" stroke="#444" stroke-width="1.0" />
<line x1="413.80" y1="91.10" x2="416.50" y2="91.10" stroke="#444" stroke-width="1.0" />
<text x="411.00" y="94.30" font-size="9" fill="#2a2a2a" stroke="#2a2a2a" stroke-width="0.0" font-weight="normal" font-style="normal" text-anchor="end" >0</text>
<line x1="413.80" y1="79.20" x2="416.50" y2="79.20" stroke="#444" stroke-width="1.0" />
<text x="411.00" y="82.40" font-size="9" fill="#2a2a2a" stroke="#2a2a2a" stroke-width="0.0" font-weight="normal" font-style="normal" text-anchor="end" >2</text>
<line x1="413.80" y1="67.30" x2="416.50" y2="67.30" stroke="#444" stroke-width="1.0" />
<text x="411.00" y="70.50" font-size="9" fill="#2a2a2a" stroke="#2a2a2a" stroke-width="0.0" font-weight="normal" font-style="normal" text-anchor="end" >4</text>
<line x1="413.80" y1="55.40" x2="416.50" y2="55.40" stroke="#444" stroke-width="1.0" />
<text x="411.00" y="58.60" font-size="9" fill="#2a2a2a" stroke="#2a2a2a" stroke-width="0.0" font-weight="normal" font-style="normal" text-anchor="end" >6</text>
<line x1="413.80" y1="43.50" x2="416.50" y2="43.50" stroke="#444" stroke-width="1.0" />
<text x="411.00" y="46.70" font-size="9" fill="#2a2a2a" stroke="#2a2a2a" stroke-width="0.0" font-weight="normal" font-style="normal" text-anchor="end" >8</text>
<text x="398.80" y="64.10" font-size="10.3" fill="#111" stroke="#111" stroke-width="0.3" font-weight="bold" font-style="normal" text-anchor="middle" transform="rotate(-90 398.8 64.1)">Count</text>
<text x="653.7" y="58.8" font-size="10.4" fill="#111" stroke="#111" stroke-width="0.35" font-weight="bold">r<tspan font-size="5.6" dy="3.2">(58)</tspan><tspan dy="-3.2"> = 0.33</tspan></text>
<text x="653.70" y="70.80" font-size="10.4" fill="#111" stroke="#111" stroke-width="0.3" font-weight="bold" font-style="italic" text-anchor="start" >p = 0.0096</text>
<line x1="444.10" y1="99.50" x2="444.10" y2="324.00" stroke="#EBEBEB" stroke-width="0.8" />
<line x1="480.35" y1="99.50" x2="480.35" y2="324.00" stroke="#EBEBEB" stroke-width="0.8" />
<line x1="516.60" y1="99.50" x2="516.60" y2="324.00" stroke="#EBEBEB" stroke-width="0.8" />
<line x1="552.85" y1="99.50" x2="552.85" y2="324.00" stroke="#EBEBEB" stroke-width="0.8" />
<line x1="589.10" y1="99.50" x2="589.10" y2="324.00" stroke="#EBEBEB" stroke-width="0.8" />
<line x1="625.35" y1="99.50" x2="625.35" y2="324.00" stroke="#EBEBEB" stroke-width="0.8" />
<line x1="416.50" y1="294.00" x2="640.80" y2="294.00" stroke="#EBEBEB" stroke-width="0.8" />
<line x1="416.50" y1="259.60" x2="640.80" y2="259.60" stroke="#EBEBEB" stroke-width="0.8" />
<line x1="416.50" y1="225.20" x2="640.80" y2="225.20" stroke="#EBEBEB" stroke-width="0.8" />
<line x1="416.50" y1="190.80" x2="640.80" y2="190.80" stroke="#EBEBEB" stroke-width="0.8" />
<line x1="416.50" y1="156.40" x2="640.80" y2="156.40" stroke="#EBEBEB" stroke-width="0.8" />
<line x1="416.50" y1="122.00" x2="640.80" y2="122.00" stroke="#EBEBEB" stroke-width="0.8" />
<polygon points="426.4,229.2 431.5,228.7 436.6,228.3 441.7,227.8 446.9,227.3 452.0,226.9 457.1,226.4 462.2,225.8 467.3,225.3 472.4,224.7 477.5,224.1 482.7,223.4 487.8,222.7 492.9,221.9 498.0,221.0 503.1,220.0 508.2,218.9 513.4,217.7 518.5,216.3 523.6,214.7 528.7,213.0 533.8,211.1 538.9,209.1 544.0,207.0 549.2,204.8 554.3,202.5 559.4,200.2 564.5,197.8 569.6,195.3 574.7,192.8 579.9,190.3 585.0,187.8 590.1,185.2 595.2,182.7 600.3,180.1 605.4,177.5 610.5,174.9 615.7,172.2 620.8,169.6 625.9,167.0 631.0,164.3 631.0,218.1 625.9,218.5 620.8,218.9 615.7,219.3 610.5,219.8 605.4,220.2 600.3,220.7 595.2,221.1 590.1,221.6 585.0,222.1 579.9,222.6 574.7,223.2 569.6,223.7 564.5,224.3 559.4,225.0 554.3,225.7 549.2,226.4 544.0,227.3 538.9,228.2 533.8,229.3 528.7,230.4 523.6,231.8 518.5,233.3 513.4,234.9 508.2,236.7 503.1,238.7 498.0,240.8 492.9,242.9 487.8,245.2 482.7,247.5 477.5,249.9 472.4,252.3 467.3,254.8 462.2,257.3 457.1,259.9 452.0,262.4 446.9,265.0 441.7,267.5 436.6,270.1 431.5,272.7 426.4,275.4" fill="#CFCFCF" fill-opacity="0.7"/>
<g fill="#303030" fill-opacity="0.62"><circle cx="510.6" cy="140.5" r="3.1"/><circle cx="489.2" cy="168.9" r="3.1"/><circle cx="517.7" cy="177.7" r="3.1"/><circle cx="503.3" cy="183.0" r="3.1"/><circle cx="456.1" cy="189.8" r="3.1"/><circle cx="471.0" cy="193.3" r="3.1"/><circle cx="497.1" cy="198.6" r="3.1"/><circle cx="520.0" cy="195.6" r="3.1"/><circle cx="583.7" cy="110.6" r="3.1"/><circle cx="549.9" cy="122.0" r="3.1"/><circle cx="536.7" cy="147.8" r="3.1"/><circle cx="555.2" cy="144.3" r="3.1"/><circle cx="589.5" cy="166.3" r="3.1"/><circle cx="607.4" cy="186.8" r="3.1"/><circle cx="630.0" cy="189.5" r="3.1"/><circle cx="565.5" cy="199.2" r="3.1"/><circle cx="621.2" cy="202.1" r="3.1"/><circle cx="426.7" cy="217.6" r="3.1"/><circle cx="436.4" cy="222.9" r="3.1"/><circle cx="468.7" cy="212.6" r="3.1"/><circle cx="489.2" cy="219.4" r="3.1"/><circle cx="492.7" cy="222.3" r="3.1"/><circle cx="508.9" cy="210.6" r="3.1"/><circle cx="503.3" cy="223.8" r="3.1"/><circle cx="506.2" cy="225.2" r="3.1"/><circle cx="509.2" cy="231.1" r="3.1"/><circle cx="518.0" cy="233.1" r="3.1"/><circle cx="444.6" cy="236.7" r="3.1"/><circle cx="476.9" cy="241.1" r="3.1"/><circle cx="476.0" cy="252.8" r="3.1"/><circle cx="525.9" cy="245.8" r="3.1"/><circle cx="528.8" cy="245.8" r="3.1"/><circle cx="455.5" cy="260.1" r="3.1"/><circle cx="459.3" cy="259.0" r="3.1"/><circle cx="472.2" cy="263.4" r="3.1"/><circle cx="479.0" cy="261.6" r="3.1"/><circle cx="470.2" cy="266.9" r="3.1"/><circle cx="455.5" cy="267.5" r="3.1"/><circle cx="483.9" cy="266.3" r="3.1"/><circle cx="501.5" cy="259.6" r="3.1"/><circle cx="511.2" cy="267.8" r="3.1"/><circle cx="520.6" cy="259.6" r="3.1"/><circle cx="521.5" cy="259.6" r="3.1"/><circle cx="528.0" cy="272.8" r="3.1"/><circle cx="434.1" cy="281.6" r="3.1"/><circle cx="451.1" cy="292.4" r="3.1"/><circle cx="603.6" cy="208.8" r="3.1"/><circle cx="544.1" cy="215.5" r="3.1"/><circle cx="548.8" cy="217.6" r="3.1"/><circle cx="528.8" cy="230.8" r="3.1"/><circle cx="540.5" cy="230.8" r="3.1"/><circle cx="563.4" cy="228.2" r="3.1"/><circle cx="578.1" cy="228.2" r="3.1"/><circle cx="578.1" cy="238.1" r="3.1"/><circle cx="540.5" cy="243.4" r="3.1"/><circle cx="537.6" cy="249.3" r="3.1"/><circle cx="558.1" cy="259.6" r="3.1"/><circle cx="542.0" cy="274.2" r="3.1"/><circle cx="539.1" cy="286.5" r="3.1"/><circle cx="546.7" cy="314.8" r="3.1"/></g>
<line x1="426.60" y1="252.20" x2="631.00" y2="191.20" stroke="#111" stroke-width="2.6" stroke-linecap="round"/>
<line x1="416.70" y1="99.40" x2="416.70" y2="325.60" stroke="#444" stroke-width="1.4" />
<line x1="416.00" y1="324.90" x2="640.80" y2="324.90" stroke="#444" stroke-width="1.4" />
<text x="444.10" y="335.40" font-size="9" fill="#2a2a2a" stroke="#2a2a2a" stroke-width="0.0" font-weight="normal" font-style="normal" text-anchor="middle" >-2</text>
<text x="411.60" y="297.20" font-size="9" fill="#2a2a2a" stroke="#2a2a2a" stroke-width="0.0" font-weight="normal" font-style="normal" text-anchor="end" >-2</text>
<text x="480.35" y="335.40" font-size="9" fill="#2a2a2a" stroke="#2a2a2a" stroke-width="0.0" font-weight="normal" font-style="normal" text-anchor="middle" >-1</text>
<text x="411.60" y="262.80" font-size="9" fill="#2a2a2a" stroke="#2a2a2a" stroke-width="0.0" font-weight="normal" font-style="normal" text-anchor="end" >-1</text>
<text x="516.60" y="335.40" font-size="9" fill="#2a2a2a" stroke="#2a2a2a" stroke-width="0.0" font-weight="normal" font-style="normal" text-anchor="middle" >0</text>
<text x="411.60" y="228.40" font-size="9" fill="#2a2a2a" stroke="#2a2a2a" stroke-width="0.0" font-weight="normal" font-style="normal" text-anchor="end" >0</text>
<text x="552.85" y="335.40" font-size="9" fill="#2a2a2a" stroke="#2a2a2a" stroke-width="0.0" font-weight="normal" font-style="normal" text-anchor="middle" >1</text>
<text x="411.60" y="194.00" font-size="9" fill="#2a2a2a" stroke="#2a2a2a" stroke-width="0.0" font-weight="normal" font-style="normal" text-anchor="end" >1</text>
<text x="589.10" y="335.40" font-size="9" fill="#2a2a2a" stroke="#2a2a2a" stroke-width="0.0" font-weight="normal" font-style="normal" text-anchor="middle" >2</text>
<text x="411.60" y="159.60" font-size="9" fill="#2a2a2a" stroke="#2a2a2a" stroke-width="0.0" font-weight="normal" font-style="normal" text-anchor="end" >2</text>
<text x="625.35" y="335.40" font-size="9" fill="#2a2a2a" stroke="#2a2a2a" stroke-width="0.0" font-weight="normal" font-style="normal" text-anchor="middle" >3</text>
<text x="411.60" y="125.20" font-size="9" fill="#2a2a2a" stroke="#2a2a2a" stroke-width="0.0" font-weight="normal" font-style="normal" text-anchor="end" >3</text>
<text x="528.80" y="349.70" font-size="12.2" fill="#1B856E" stroke="#1B856E" stroke-width="0.1" font-weight="bold" font-style="normal" text-anchor="middle" >Impulsivity score (a.u.)</text>
<text x="398.80" y="212.10" font-size="12.2" fill="#A95C1C" stroke="#A95C1C" stroke-width="0.1" font-weight="bold" font-style="normal" text-anchor="middle" transform="rotate(-90 398.8 212.1)">Apathy score (a.u.)</text>
<line x1="647.00" y1="294.00" x2="709.00" y2="294.00" stroke="#EBEBEB" stroke-width="0.8" />
<line x1="647.00" y1="259.60" x2="709.00" y2="259.60" stroke="#EBEBEB" stroke-width="0.8" />
<line x1="647.00" y1="225.20" x2="709.00" y2="225.20" stroke="#EBEBEB" stroke-width="0.8" />
<line x1="647.00" y1="190.80" x2="709.00" y2="190.80" stroke="#EBEBEB" stroke-width="0.8" />
<line x1="647.00" y1="156.40" x2="709.00" y2="156.40" stroke="#EBEBEB" stroke-width="0.8" />
<line x1="647.00" y1="122.00" x2="709.00" y2="122.00" stroke="#EBEBEB" stroke-width="0.8" />
<path d="M647.8,110.30L660.28,110.30L660.28,144.60L654.84,144.60L654.84,161.50L665.72,161.50L665.72,178.80L676.60,178.80L676.60,195.70L687.48,195.70L687.48,213.20L703.80,213.20L703.80,263.30L682.04,263.30L682.04,280.60L665.72,280.60L665.72,297.40L654.84,297.40L654.84,314.70L647.8,314.70Z" fill="#A95C1C"/>
<line x1="647.00" y1="99.40" x2="647.00" y2="325.60" stroke="#444" stroke-width="1.4" />
<line x1="646.30" y1="324.90" x2="707.20" y2="324.90" stroke="#444" stroke-width="1.4" />
<line x1="644.40" y1="294.00" x2="647.00" y2="294.00" stroke="#444" stroke-width="1.0" />
<line x1="644.40" y1="259.60" x2="647.00" y2="259.60" stroke="#444" stroke-width="1.0" />
<line x1="644.40" y1="225.20" x2="647.00" y2="225.20" stroke="#444" stroke-width="1.0" />
<line x1="644.40" y1="190.80" x2="647.00" y2="190.80" stroke="#444" stroke-width="1.0" />
<line x1="644.40" y1="156.40" x2="647.00" y2="156.40" stroke="#444" stroke-width="1.0" />
<line x1="644.40" y1="122.00" x2="647.00" y2="122.00" stroke="#444" stroke-width="1.0" />
<line x1="649.40" y1="324.90" x2="649.40" y2="327.00" stroke="#444" stroke-width="1.0" />
<text x="649.40" y="334.80" font-size="9" fill="#2a2a2a" stroke="#2a2a2a" stroke-width="0.0" font-weight="normal" font-style="normal" text-anchor="middle" >0</text>
<line x1="676.60" y1="324.90" x2="676.60" y2="327.00" stroke="#444" stroke-width="1.0" />
<text x="676.60" y="334.80" font-size="9" fill="#2a2a2a" stroke="#2a2a2a" stroke-width="0.0" font-weight="normal" font-style="normal" text-anchor="middle" >5</text>
<line x1="703.80" y1="324.90" x2="703.80" y2="327.00" stroke="#444" stroke-width="1.0" />
<text x="703.80" y="334.80" font-size="9" fill="#2a2a2a" stroke="#2a2a2a" stroke-width="0.0" font-weight="normal" font-style="normal" text-anchor="middle" >10</text>
<text x="677.80" y="349.60" font-size="10.4" fill="#111" stroke="#111" stroke-width="0.3" font-weight="bold" font-style="normal" text-anchor="middle" >Count</text>
</svg>
</body></html>
